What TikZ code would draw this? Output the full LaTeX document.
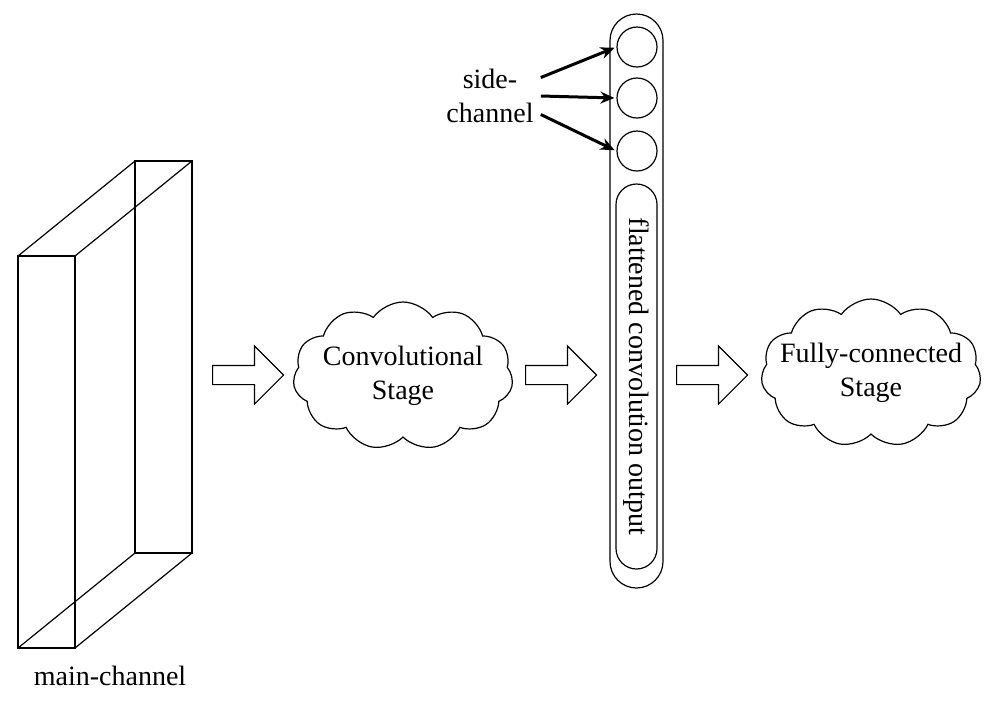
\documentclass[tikz,border=0pt]{standalone}
\usepackage{fontspec}
\setmainfont{Liberation Serif}
\usetikzlibrary{shapes.symbols,shapes.arrows,arrows.meta}

\begin{document}
\begin{tikzpicture}[x=0.5pt,y=-0.5pt,line width=0.6pt,
	every node/.style={font=\fontsize{14}{17}\selectfont},
	stagecloud/.style={cloud,draw,cloud puffs=11,cloud puff arc=110,cloud ignores aspect,minimum width=110pt,minimum height=74pt,inner sep=0pt},
	hollow/.style={single arrow,draw,anchor=tail,minimum height=35.5pt,inner sep=4.5pt,single arrow head extend=9.75pt},
	unit/.style={circle,draw,minimum size=20pt,inner sep=0pt},
	sidearrow/.style={line width=1.5pt,-{Stealth[length=7pt,width=6pt]},shorten >=1pt}]
	\useasboundingbox (0,0) rectangle (1000,720);
	\draw (18,256) rectangle (75,648);
	\draw (135,161) rectangle (192,553);
	\foreach \X/\Y in {18/256,75/256,75/648,18/648}
	{\draw (\X,\Y) -- ++(117,-95);}
	\node (main) at (110,676) {main-channel};
	\node[stagecloud,label={[align=center]center:Convolutional\\Stage}] (conv) at (403,376) {};
	\node[stagecloud,label={[align=center]center:Fully-connected\\Stage}] (fc) at (871,373) {};
	\foreach \X [count=\Z] in {212,525,676}
	{\node[hollow] (h\Z) at (\X,375) {};}
	\node[draw,rounded corners=13.25pt,minimum width=26.5pt,minimum height=287pt] (flat) at (636.5,301) {};
	\node[draw,rotate=-90,rounded corners=10.25pt,minimum width=192.5pt,minimum height=20.5pt,inner sep=0pt] (out) at (636.5,376.5) {flattened convolution output};
	\foreach \Y [count=\Z] in {47,98,151}
	{\node[unit] (c\Z) at (637,\Y) {};}
	\node[align=center] (side) at (490,96) {side-\\channel};
	\draw[sidearrow] (side.20) -- (c1.west);
	\draw[sidearrow] (side.east) -- (c2.west);
	\draw[sidearrow] (side.-20) -- (c3.west);
\end{tikzpicture}
\end{document}
